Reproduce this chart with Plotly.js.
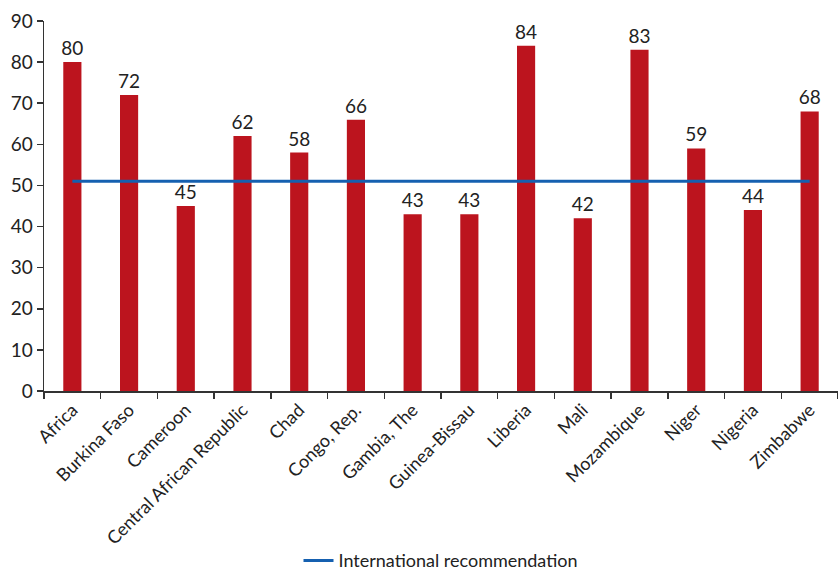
<!DOCTYPE html>
<html>
<head>
<meta charset="utf-8">
<script src="https://cdn.plot.ly/plotly-3.0.1.min.js"></script>
<style>html,body{margin:0;padding:0;background:#fff;}#chart{width:838px;height:571px;}</style>
</head>
<body>
<div id="chart"></div>
<script>
const categories = ["Africa","Burkina Faso","Cameroon","Central African Republic","Chad","Congo, Rep.","Gambia, The","Guinea-Bissau","Liberia","Mali","Mozambique","Niger","Nigeria","Zimbabwe"];
const values = [80,72,45,62,58,66,43,43,84,42,83,59,44,68];
const recommendation = [51,51,51,51,51,51,51,51,51,51,51,51,51,51];

const fontFam = "Lato, 'Open Sans', sans-serif";
const traces = [
  {
    type: 'bar', x: categories, y: values,
    marker: {color: '#BC141E'},
    width: 0.32,
    text: values.map(String), textposition: 'outside', cliponaxis: false,
    constraintext: 'none',
    textfont: {family: fontFam, size: 19, color: '#222'},
    showlegend: false, hoverinfo: 'x+y'
  },
  {
    type: 'scatter', mode: 'lines', x: categories, y: recommendation,
    line: {color: '#1560B0', width: 3},
    name: 'International recommendation'
  }
];
const layout = {
  width: 838, height: 571,
  margin: {l: 44, r: 0, t: 21, b: 180},
  paper_bgcolor: '#fff', plot_bgcolor: '#fff',
  font: {family: fontFam, size: 18, color: '#222'},
  bargap: 0.68,
  xaxis: {
    type: 'category', range: [-0.5, 13.5], automargin: false,
    showline: true, linecolor: '#333', linewidth: 1.5,
    ticks: 'outside', tickson: 'boundaries', ticklen: 6, tickcolor: '#333', tickwidth: 1.5,
    tickangle: -45, tickfont: {family: fontFam, size: 18, color: '#222'},
    showgrid: false, zeroline: false
  },
  yaxis: {
    range: [0, 90], dtick: 10, automargin: false,
    showline: true, linecolor: '#333', linewidth: 1.5,
    ticks: 'outside', ticklen: 6, tickcolor: '#333', tickwidth: 1.5,
    tickfont: {family: fontFam, size: 19, color: '#222'},
    showgrid: false, zeroline: false
  },
  showlegend: true,
  legend: {
    orientation: 'h', x: 0.5, xanchor: 'center', yref: 'container', y: 0.018, yanchor: 'middle',
    font: {family: fontFam, size: 18, color: '#222'}
  }
};
Plotly.newPlot('chart', traces, layout, {displayModeBar: false, staticPlot: true});
</script>
</body>
</html>
